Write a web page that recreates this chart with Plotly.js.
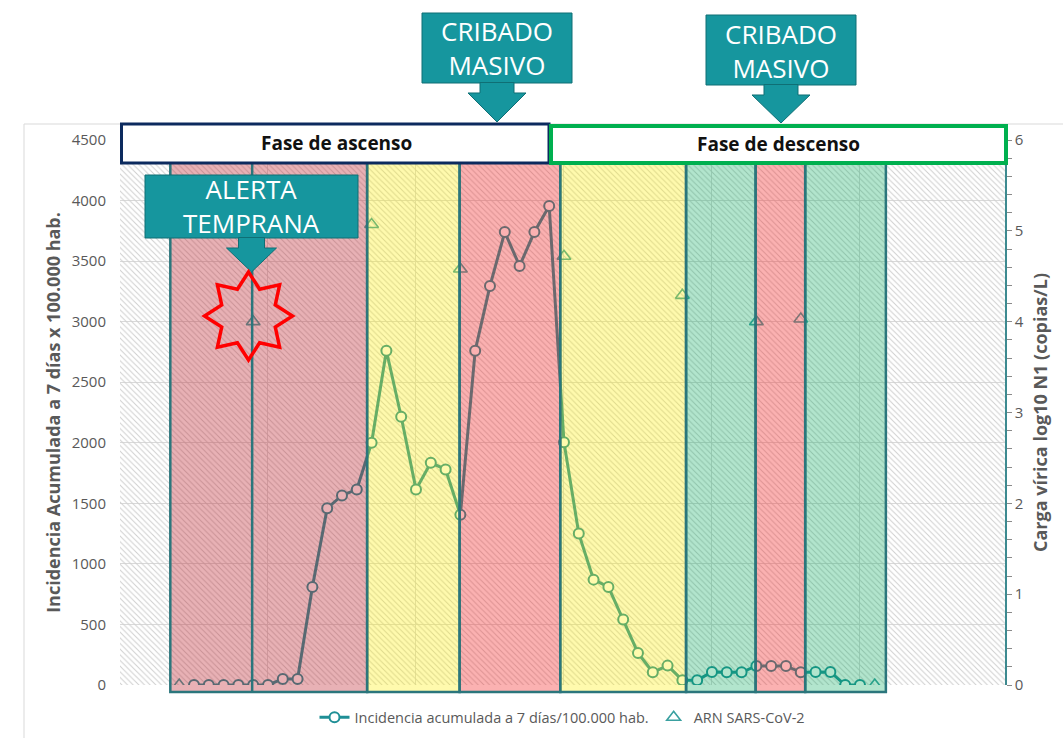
<!DOCTYPE html>
<html>
<head>
<meta charset="utf-8">
<script src="https://cdn.plot.ly/plotly-3.0.1.min.js"></script>
<style>
html,body{margin:0;padding:0;background:#ffffff;}
#chart{width:1063px;height:738px;}
</style>
</head>
<body>
<div id="chart"></div>
<script>
// ---------- DATA ----------
const semanas = [0,1,2,3,4,5,6,7,8,9,10,11,12,13,14,15,16,17,18,19,20,21,22,23,24,25,26,27,28,29,30,31,32,33,34,35,36,37,38,39,40,41,42,43,44,45,46,47];
const incidencia = [null,0,0,0,0,0,0,50,50,810,1460,1565,1615,2000,2760,2215,1615,1835,1780,1405,2760,3295,3740,3460,3740,3955,2005,1250,870,810,540,265,105,160,40,40,108,105,105,157,157,157,105,108,108,0,0,null];
const arn = [0,null,null,null,null,4.0,null,null,null,null,null,null,null,5.07,null,null,null,null,null,4.58,null,null,null,null,null,null,4.72,null,null,null,null,null,null,null,4.29,null,null,null,null,4.0,null,null,4.03,null,null,null,null,0];
const bandaNivel = ['rojo1','amarillo','rojo','amarillo','verde','rojo','verde'];
const bandaInicio = [-0.6, 12.7, 18.95, 25.75, 34.25, 38.95, 42.3];
const bandaFin = [12.7, 18.95, 25.75, 34.25, 38.95, 42.3, 47.75];
const semanaAlerta = 4.93;
const serieNombres = ['Incidencia acumulada a 7 días/100.000 hab.', 'ARN SARS-CoV-2'];
const tituloY = 'Incidencia Acumulada a 7 días x 100.000 hab.';
const tituloY2 = 'Carga vírica log10 N1 (copias/L)';
const fasesTexto = ['Fase de ascenso', 'Fase de descenso'];
const llamadas = ['CRIBADO<br>MASIVO', 'CRIBADO<br>MASIVO', 'ALERTA<br>TEMPRANA'];

// ---------- LAYOUT HELPERS ----------
const W = 1063, H = 738;
const M = {l:120, r:58, t:140, b:53, autoexpand:false};
const PW = W - M.l - M.r, PH = H - M.t - M.b;
const PX = x => (x - M.l) / PW;
const PY = y => (M.t + PH - y) / PH;
const xRange = [-4, 55.8];
const yRange = [0, 4500];
const FONT = 'Open Sans, Noto Sans, sans-serif';
const TEAL = '#1f8f96';

const bandColors = {
  rojo1: 'rgba(190,40,50,0.36)',
  rojo: 'rgba(245,40,40,0.36)',
  amarillo: 'rgba(255,240,0,0.32)',
  verde: 'rgba(0,170,90,0.30)'
};

const shapes = [];
// outer frame
shapes.push({type:'rect', xref:'paper', yref:'paper', x0:PX(24), x1:PX(1075), y0:PY(124), y1:PY(760),
  line:{color:'#d9d9d9', width:1}, fillcolor:'rgba(0,0,0,0)', layer:'below'});
// bands
for (let i = 0; i < bandaNivel.length; i++) {
  shapes.push({type:'rect', xref:'x', yref:'paper', x0:bandaInicio[i], x1:bandaFin[i], y0:PY(692), y1:PY(158),
    fillcolor: bandColors[bandaNivel[i]], line:{color:'#2b767c', width:2.5}, layer:'above'});
}
// alert line
shapes.push({type:'line', xref:'x', yref:'paper', x0:semanaAlerta, x1:semanaAlerta, y0:PY(692), y1:PY(158),
  line:{color:'#2b767c', width:2.5}, layer:'above'});
// phase boxes
shapes.push({type:'rect', xref:'paper', yref:'paper', x0:PX(121.5), x1:PX(549), y0:PY(163), y1:PY(124),
  fillcolor:'#ffffff', line:{color:'#0c2a5e', width:3}, layer:'above'});
shapes.push({type:'rect', xref:'paper', yref:'paper', x0:PX(551), x1:PX(1006), y0:PY(163), y1:PY(126),
  fillcolor:'#ffffff', line:{color:'#00b04f', width:4}, layer:'above'});

function p(x, y){ return PX(x).toFixed(5) + ',' + PY(y).toFixed(5); }
function callout(x0, x1, y0, y1, tipY, shaftHalf, headHalf, shaftLen){
  const cx = (x0 + x1) / 2;
  shapes.push({type:'rect', xref:'paper', yref:'paper', x0:PX(x0), x1:PX(x1), y0:PY(y1), y1:PY(y0),
    fillcolor:'#16969e', line:{color:'#0f6f75', width:1}, layer:'above'});
  const yb = y1 + shaftLen;
  const path = 'M' + p(cx - shaftHalf, y1 - 0.5) + ' L' + p(cx + shaftHalf, y1 - 0.5) + ' L' + p(cx + shaftHalf, yb) +
    ' L' + p(cx + headHalf, yb) + ' L' + p(cx, tipY) + ' L' + p(cx - headHalf, yb) + ' L' + p(cx - shaftHalf, yb) + ' Z';
  shapes.push({type:'path', xref:'paper', yref:'paper', path:path, fillcolor:'#16969e', line:{color:'#0f6f75', width:1}, layer:'above'});
  return cx;
}
const c1 = callout(422, 572, 13, 83, 122, 17, 29, 10);
const c2 = callout(706, 856, 15, 85, 123, 17, 29, 10);
const c3 = callout(145, 358, 175, 238, 272, 13, 25, 10);

// star
(function(){
  const cx = 248.5, cy = 316, ro = 44, ri = 29;
  let d = '';
  for (let k = 0; k < 16; k++) {
    const ang = -Math.PI/2 + k * Math.PI / 8;
    const r = (k % 2 === 0) ? ro : ri;
    const x = cx + r * Math.cos(ang), y = cy + r * Math.sin(ang);
    d += (k === 0 ? 'M' : ' L') + p(x, y);
  }
  d += ' Z';
  shapes.push({type:'path', xref:'paper', yref:'paper', path:d, fillcolor:'rgba(0,0,0,0)', line:{color:'#ff0000', width:3.5}, layer:'above'});
})();

function ann(x, y, text, size, color){
  return {xref:'paper', yref:'paper', x:PX(x), y:PY(y), xanchor:'center', yanchor:'middle', text:text,
    showarrow:false, font:{family:FONT, size:size, color:color}};
}
const annotations = [
  ann(336, 143, '<b>' + fasesTexto[0] + '</b>', 19, '#111111'),
  ann(778, 144, '<b>' + fasesTexto[1] + '</b>', 19, '#111111'),
  ann(c1, 48, llamadas[0], 26, '#ffffff'),
  ann(c2, 51, llamadas[1], 26, '#ffffff'),
  ann(c3, 206, llamadas[2], 26, '#ffffff')
];

// ---------- TRACES ----------
const fondo = {
  x:[xRange[0], xRange[1], xRange[1], xRange[0], xRange[0]],
  y:[yRange[0], yRange[0], yRange[1], yRange[1], yRange[0]],
  type:'scatter', mode:'lines', fill:'toself', fillcolor:'rgba(0,0,0,0)',
  fillpattern:{shape:'\\', fgcolor:'#cfcfcf', bgcolor:'rgba(255,255,255,0)', size:4, solidity:0.25},
  line:{width:0}, hoverinfo:'skip', showlegend:false
};
const tIncid = {
  x: semanas, y: incidencia, name: serieNombres[0], type:'scatter', mode:'lines+markers',
  line:{color:TEAL, width:3},
  marker:{symbol:'circle', size:10, color:'#ffffff', line:{color:TEAL, width:2}},
  connectgaps:false
};
const tArn = {
  x: semanas, y: arn, name: serieNombres[1], type:'scatter', mode:'markers', yaxis:'y2',
  marker:{symbol:'triangle-up-open', size:12, color:'#3aa0a0', line:{width:1.6}}
};

const layout = {
  width:W, height:H,
  margin:M,
  paper_bgcolor:'#ffffff', plot_bgcolor:'#ffffff',
  font:{family:FONT, color:'#595959'},
  showlegend:true,
  legend:{orientation:'h', x:0.5, xanchor:'center', y:-0.03, yanchor:'top',
    font:{family:FONT, size:14.5, color:'#595959'}, bgcolor:'rgba(0,0,0,0)'},
  xaxis:{range:xRange, showticklabels:false, showgrid:true, gridcolor:'#d9d9d9', gridwidth:1,
    tick0:-4, dtick:10, zeroline:false, showline:false, ticks:''},
  yaxis:{range:yRange, dtick:500, showgrid:true, gridcolor:'#d9d9d9', zeroline:false, showline:false,
    ticks:'outside', ticklen:10, tickcolor:'rgba(0,0,0,0)',
    tickfont:{family:FONT, size:15, color:'#595959'},
    title:{text:tituloY, standoff:6, font:{family:FONT, size:18, color:'#595959', weight:'bold'}}},
  yaxis2:{range:[0,6], dtick:1, overlaying:'y', side:'right', showgrid:false, zeroline:false,
    showline:true, linecolor:'#3d8a90', linewidth:1.5,
    ticks:'outside', ticklen:5, tickcolor:'#8a8a8a',
    minor:{dtick:0.2, ticks:'outside', ticklen:5, tickcolor:'#8a8a8a'},
    tickfont:{family:FONT, size:15, color:'#595959'},
    title:{text:tituloY2, standoff:12, font:{family:FONT, size:18, color:'#595959', weight:'bold'}}},
  shapes:shapes,
  annotations:annotations
};

Plotly.newPlot('chart', [fondo, tIncid, tArn], layout, {displayModeBar:false, responsive:false});
</script>
</body>
</html>
